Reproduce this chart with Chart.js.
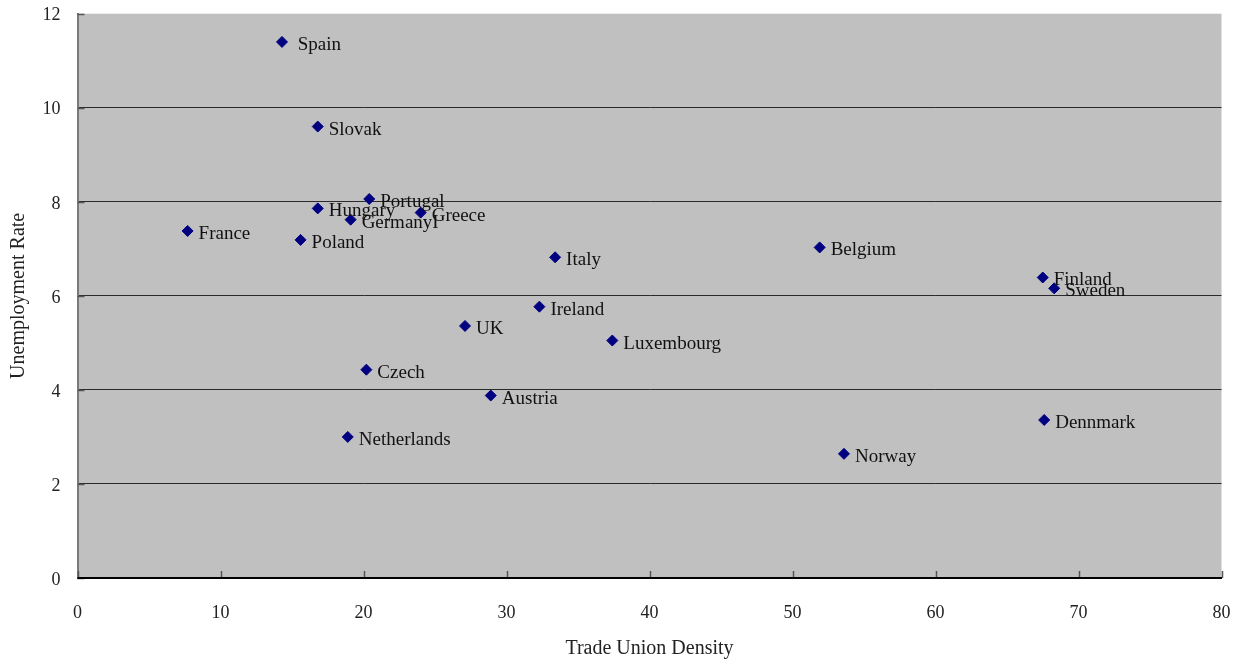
<!DOCTYPE html>
<html>
<head>
<meta charset="utf-8">
<script src="https://cdn.jsdelivr.net/npm/chart.js@4/dist/chart.umd.min.js"></script>
<style>
  html, body { margin: 0; padding: 0; background: #ffffff; }
  #wrap { width: 1252px; height: 665px; }
</style>
</head>
<body>
<div id="wrap"><canvas id="chart" width="1252" height="665"></canvas></div>
<script>
// Countries with trade union density (%) and unemployment rate (%)
const countries = [
  " Spain", "Slovak", "Portugal", "Hungary", "GermanyI", "Greece", "France", "Poland",
  "Italy", "Belgium", "Finland", "Sweden", "Ireland", "UK", "Luxembourg", "Czech",
  "Austria", "Netherlands", "Dennmark", "Norway"
];
const unionDensity = [
  14.3, 16.8, 20.4, 16.8, 19.1, 24.0, 7.7, 15.6,
  33.4, 51.9, 67.5, 68.3, 32.3, 27.1, 37.4, 20.2,
  28.9, 18.9, 67.6, 53.6
];
const unemploymentRate = [
  11.4, 9.6, 8.06, 7.86, 7.62, 7.77, 7.38, 7.19,
  6.82, 7.03, 6.39, 6.16, 5.77, 5.36, 5.05, 4.43,
  3.88, 3.0, 3.36, 2.64
];
const xTicks = [0, 10, 20, 30, 40, 50, 60, 70, 80];
const yTicks = [0, 2, 4, 6, 8, 10, 12];

const FONT = "'Liberation Serif', 'DejaVu Serif', serif";

const points = unionDensity.map((d, i) => ({ x: d, y: unemploymentRate[i] }));

// Grey plotting area behind the points
const plotBackground = {
  id: 'plotBackground',
  beforeDraw(chart) {
    const { ctx, chartArea: a } = chart;
    ctx.save();
    ctx.fillStyle = '#c0c0c0';
    ctx.fillRect(a.left, a.top, a.right - a.left, a.bottom - a.top);
    ctx.restore();
  }
};

// Short inward tick marks on both axes
const innerTicks = {
  id: 'innerTicks',
  afterDraw(chart) {
    const { ctx, chartArea: a, scales } = chart;
    ctx.save();
    ctx.lineWidth = 1.5;
    ctx.strokeStyle = '#555555';
    ctx.beginPath();
    xTicks.forEach(v => {
      const px = Math.round(scales.x.getPixelForValue(v)) + 0.5;
      ctx.moveTo(px, a.bottom);
      ctx.lineTo(px, a.bottom - 7);
    });
    yTicks.forEach(v => {
      const py = Math.round(scales.y.getPixelForValue(v)) + 0.5;
      ctx.moveTo(a.left, py);
      ctx.lineTo(a.left + 7, py);
    });
    ctx.stroke();
    // bottom axis line
    ctx.strokeStyle = '#000000';
    ctx.lineWidth = 2;
    ctx.beginPath();
    ctx.moveTo(a.left, a.bottom);
    ctx.lineTo(a.right, a.bottom);
    ctx.stroke();
    ctx.restore();
  }
};

// Country names next to each point
const pointLabels = {
  id: 'pointLabels',
  afterDatasetsDraw(chart) {
    const { ctx } = chart;
    const meta = chart.getDatasetMeta(0);
    ctx.save();
    ctx.font = "19px " + FONT;
    ctx.fillStyle = '#111111';
    ctx.textAlign = 'left';
    ctx.textBaseline = 'middle';
    meta.data.forEach((el, i) => {
      ctx.fillText(countries[i], el.x + 11, el.y + 3);
    });
    ctx.restore();
  }
};

new Chart(document.getElementById('chart'), {
  type: 'scatter',
  data: {
    datasets: [{
      data: points,
      pointStyle: 'rectRot',
      pointRadius: 5.5,
      pointHoverRadius: 5.5,
      backgroundColor: '#000080',
      borderColor: '#000080',
      borderWidth: 1
    }]
  },
  options: {
    responsive: false,
    animation: false,
    events: [],
    layout: { padding: { left: 0, right: 30.5, top: 13.7, bottom: 0 } },
    plugins: {
      legend: { display: false },
      tooltip: { enabled: false }
    },
    scales: {
      x: {
        type: 'linear',
        min: 0,
        max: 80,
        afterBuildTicks(scale) { scale.ticks = xTicks.map(v => ({ value: v })); },
        afterFit(scale) {
          scale.height = 87;
          scale.paddingLeft = 0;
          scale.paddingRight = 0;
        },
        ticks: {
          padding: 24,
          color: '#222222',
          font: { family: FONT, size: 18 },
          maxRotation: 0
        },
        grid: { display: false, drawTicks: false },
        border: { display: true, color: '#000000', width: 2 },
        title: {
          display: true,
          text: 'Trade Union Density',
          color: '#222222',
          font: { family: FONT, size: 20 },
          padding: { top: 0, bottom: 4 }
        }
      },
      y: {
        type: 'linear',
        min: 0,
        max: 12,
        afterBuildTicks(scale) { scale.ticks = yTicks.map(v => ({ value: v })); },
        afterFit(scale) {
          scale.width = 77.5;
          scale.paddingTop = 0;
          scale.paddingBottom = 0;
        },
        ticks: {
          padding: 17,
          labelOffset: 2,
          color: '#222222',
          font: { family: FONT, size: 18 }
        },
        grid: {
          drawTicks: false,
          lineWidth: 1,
          color: (c) => (c.tick && (c.tick.value === 0 || c.tick.value === 12)) ? 'rgba(0,0,0,0)' : '#2a2a2a'
        },
        border: { display: true, color: '#7a7a7a', width: 2 },
        title: {
          display: true,
          text: 'Unemployment Rate',
          color: '#222222',
          font: { family: FONT, size: 20 },
          padding: { top: 7, bottom: 0 }
        }
      }
    }
  },
  plugins: [plotBackground, innerTicks, pointLabels]
});
</script>
</body>
</html>
